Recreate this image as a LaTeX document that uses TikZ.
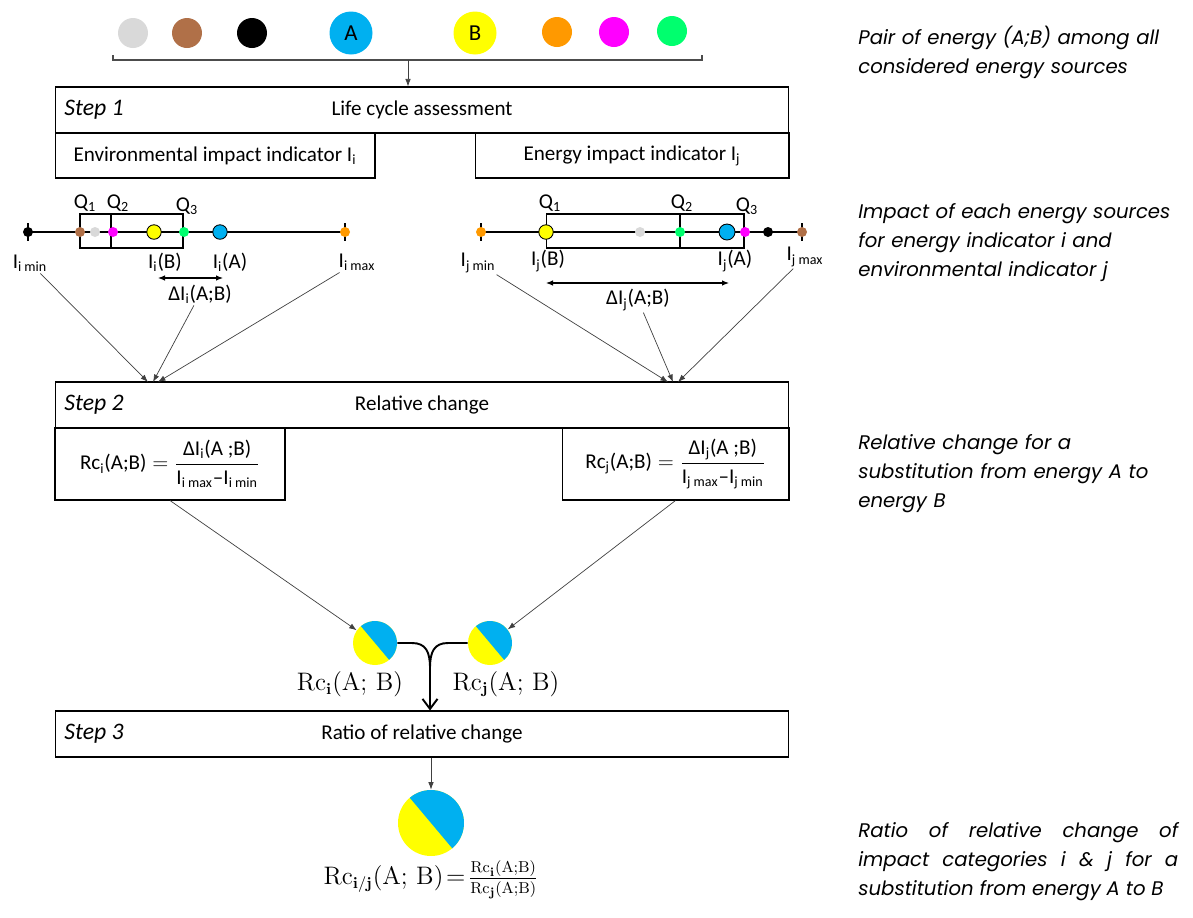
\documentclass[tikz,border=0pt]{standalone}
\usepackage{amsmath}
\usepackage[no-math]{fontspec}
\setmainfont{Carlito}
\newfontfamily\notefont{Poppins}
\usetikzlibrary{arrows.meta,positioning}
\definecolor{srcgray}{RGB}{217,217,217}
\definecolor{srcbrown}{RGB}{176,112,72}
\definecolor{srcblue}{RGB}{0,176,240}
\definecolor{srcyellow}{RGB}{255,255,0}
\definecolor{srcorange}{RGB}{255,153,0}
\definecolor{srcmagenta}{RGB}{255,0,255}
\definecolor{srcgreen}{RGB}{0,255,110}
\newcommand{\splitdisc}[2]{%
  \begin{scope}[shift={(#1.center)}, x=1cm, y=1cm]
    \fill[srcyellow] (0,0) circle (#2);
    \fill[srcblue] (-50:#2) arc[start angle=-50, end angle=130, radius=#2] -- cycle;
  \end{scope}}
\newcommand{\rcm}[1]{\mathrm{Rc}_{\mathbf{#1}}}

\begin{document}
\begin{tikzpicture}[
  x=0.02cm, y=-0.02cm,
  font=\fontsize{12}{14}\selectfont,
  stepbox/.style={draw, line width=0.6pt, minimum width=14.68cm, minimum height=0.92cm, inner sep=0pt},
  subbox/.style={draw, line width=0.6pt, minimum height=0.9cm, inner sep=0pt},
  steplbl/.style={anchor=west, inner sep=0pt, font=\fontsize{13.5}{15}\selectfont\itshape},
  note/.style={anchor=north west, inner sep=0pt, align=left, text width=6.4cm, font=\notefont\itshape\fontsize{11.2}{16.6}\selectfont},
  src/.style={circle, minimum size=0.6cm, inner sep=0pt},
  srcbig/.style={circle, minimum size=0.86cm, inner sep=0pt, font=\fontsize{13}{15}\selectfont},
  pt/.style={circle, fill=#1, minimum size=0.2cm, inner sep=0pt},
  ptl/.style={circle, fill=#1, draw=black, line width=0.5pt, minimum size=0.29cm, inner sep=0pt},
  qbox/.style={draw, line width=0.6pt, minimum height=0.68cm, inner sep=0pt},
  lbl/.style={inner sep=1pt},
  disc/.style={circle, inner sep=0pt, minimum size=0.88cm},
  rclbl/.style={inner sep=1pt, font=\fontsize{13.5}{16}\selectfont},
  arrow/.style={-{Latex[length=1.5mm,width=1.1mm]}, line width=0.4pt, black!75},
  dbl/.style={{Latex[length=1.4mm,width=1.1mm]}-{Latex[length=1.4mm,width=1.1mm]}, line width=0.6pt},
  merge/.style={line width=1.1pt},
  axis/.style={line width=0.6pt}
]
\useasboundingbox (0,0) rectangle (1193,917);

\node[src, fill=srcgray] (sgray) at (133,33) {};
\node[src, fill=srcbrown] (sbrown) at (187,33) {};
\node[src, fill=black] (sblack) at (252,33) {};
\node[srcbig, fill=srcblue] (sA) at (351,33) {A};
\node[srcbig, fill=srcyellow] (sB) at (475,33) {B};
\node[src, fill=srcorange] (sorange) at (557,32) {};
\node[src, fill=srcmagenta] (smagenta) at (614,32) {};
\node[src, fill=srcgreen] (sgreen) at (672,31) {};
\draw[gray!60!black, line width=0.6pt] (113,55) -- (113,60) -- (702,60) -- (702,55);
\coordinate (pair) at (408,60);

\node[stepbox] (s1) at (422,110) {Life cycle assessment};
\node[steplbl] (s1lbl) at (64,110) {Step 1};
\node[subbox, minimum width=6.4cm] (envind) at (215,155.5) {Environmental impact indicator I\textsubscript{i}};
\node[subbox, minimum width=6.28cm] (enind) at (632,155.5) {Energy impact indicator I\textsubscript{j}};
\draw[arrow] (pair) -- (pair |- s1.north);

\coordinate (imin) at (28,232);
\coordinate (imax) at (345,232);
\draw[axis] (imin) -- (imax);
\draw[axis] (28,223) -- (28,241);
\draw[axis] (345,223) -- (345,241);
\node[qbox, minimum width=2.06cm] (boxi) at (131.5,231) {};
\draw[axis] (111,214) -- (111,248);
\node[pt=black] (pi1) at (28,232) {};
\node[pt=srcbrown] (pi2) at (80,232) {};
\node[pt=srcgray] (pi3) at (95,232) {};
\node[pt=srcmagenta] (pi4) at (113,232) {};
\node[ptl=srcyellow] (piB) at (154,232) {};
\node[pt=srcgreen] (pi5) at (184,232) {};
\node[ptl=srcblue] (piA) at (220,232) {};
\node[pt=srcorange] (pi6) at (345,232) {};
\node[lbl] (qi1) at (85,203) {Q\textsubscript{1}};
\node[lbl] (qi2) at (118,203) {Q\textsubscript{2}};
\node[lbl] (qi3) at (187,206) {Q\textsubscript{3}};
\node[lbl] (limin) at (30,263) {I\textsubscript{i min}};
\node[lbl] (liB) at (165,262) {I\textsubscript{i}(B)};
\node[lbl] (liA) at (230,262) {I\textsubscript{i}(A)};
\node[lbl] (limax) at (357,262) {I\textsubscript{i max}};
\coordinate (dia) at (158,278);
\coordinate (dib) at (223,278);
\draw[dbl] (dia) -- (dib);
\node[lbl] (dIi) at (200,294) {ΔI\textsubscript{i}(A;B)};

\coordinate (jmin) at (481,232);
\coordinate (jmax) at (802,232);
\draw[axis] (jmin) -- (jmax);
\draw[axis] (481,223) -- (481,241);
\draw[axis] (802,223) -- (802,241);
\node[qbox, minimum width=3.96cm] (boxj) at (645,231) {};
\draw[axis] (680,214) -- (680,248);
\node[pt=srcorange] (pj1) at (481,232) {};
\node[ptl=srcyellow] (pjB) at (546,232) {};
\node[pt=srcgray] (pj2) at (640,232) {};
\node[pt=srcgreen] (pj3) at (680,232) {};
\node[ptl=srcblue, minimum size=0.32cm] (pjA) at (727,232) {};
\node[pt=srcmagenta] (pj4) at (745,232) {};
\node[pt=black] (pj5) at (768,232) {};
\node[pt=srcbrown] (pj6) at (802,232) {};
\node[lbl] (qj1) at (550,203) {Q\textsubscript{1}};
\node[lbl] (qj2) at (682,203) {Q\textsubscript{2}};
\node[lbl] (qj3) at (747,206) {Q\textsubscript{3}};
\node[lbl] (ljmin) at (478,263) {I\textsubscript{j min}};
\node[lbl] (ljB) at (548,261) {I\textsubscript{j}(B)};
\node[lbl] (ljA) at (735,261) {I\textsubscript{j}(A)};
\node[lbl] (ljmax) at (805,257) {I\textsubscript{j max}};
\coordinate (dja) at (546,283);
\coordinate (djb) at (729,283);
\draw[dbl] (dja) -- (djb);
\node[lbl] (dIj) at (638,300) {ΔI\textsubscript{j}(A;B)};

\node[stepbox] (s2) at (422,405) {Relative change};
\node[steplbl] (s2lbl) at (64,405) {Step 2};
\node[subbox, minimum width=4.6cm, minimum height=1.44cm] (rcfi) at (170,464)
  {$\text{Rc}_{\text{i}}\text{(A;B)} = \dfrac{\text{ΔI}_{\text{i}}\text{(A ;B)}}{\text{I}_{\text{i max}}\text{–I}_{\text{i min}}}$};
\node[subbox, minimum width=4.54cm, minimum height=1.44cm] (rcfj) at (675.5,464)
  {$\text{Rc}_{\text{j}}\text{(A;B)} = \dfrac{\text{ΔI}_{\text{j}}\text{(A ;B)}}{\text{I}_{\text{j max}}\text{–I}_{\text{j min}}}$};
\draw[arrow] (limin) -- (148,382);
\draw[arrow] (dIi) -- (153,382);
\draw[arrow] (limax) -- (158,382);
\draw[arrow] (ljmin) -- (668,382);
\draw[arrow] (dIj) -- (673,382);
\draw[arrow] (ljmax) -- (678,382);

\node[disc] (rci) at (375,643) {};
\node[disc] (rcj) at (490,643) {};
\splitdisc{rci}{0.44cm}
\splitdisc{rcj}{0.44cm}
\node[rclbl] (rcil) at (350,684) {$\rcm{i}(\mathrm{A};\,\mathrm{B})$};
\node[rclbl] (rcjl) at (506,684) {$\rcm{j}(\mathrm{A};\,\mathrm{B})$};
\draw[arrow] (rcfi.south) -- (rci);
\draw[arrow] (rcfj.south) -- (rcj);

\node[stepbox] (s3) at (422,734) {Ratio of relative change};
\node[steplbl] (s3lbl) at (64,734) {Step 3};
\coordinate (merge) at (430,668);
\draw[merge] (rci.east) -- (412,643) .. controls (426,643) and (430,652) .. (merge);
\draw[merge] (rcj.west) -- (448,643) .. controls (434,643) and (430,652) .. (merge);
\draw[merge, -{Straight Barb[length=2mm,width=3mm]}] (merge) -- (merge |- s3.north);

\node[disc, minimum size=1.32cm] (rcij) at (431,823) {};
\splitdisc{rcij}{0.66cm}
\draw[arrow] (rcij |- s3.south) -- (rcij.north);
\node[rclbl] (rcijl) at (431,880)
  {$\rcm{i/j}(\mathrm{A};\,\mathrm{B})\!=\!\frac{\rcm{i}(\mathrm{A};\mathrm{B})}{\rcm{j}(\mathrm{A};\mathrm{B})}$};

\node[note] (n1) at (858,26) {Pair of energy (A;B) among all\\considered energy sources};
\node[note] (n2) at (858,203) {Impact of each energy sources\\for energy indicator i and\\environmental indicator j};
\node[note] (n3) at (858,434) {Relative change for a\\substitution from energy A to\\energy B};
\node[note, align=justify] (n4) at (858,822) {Ratio of relative change of\linebreak impact categories i \& j for a\linebreak substitution from energy A to B};
\end{tikzpicture}
\end{document}
